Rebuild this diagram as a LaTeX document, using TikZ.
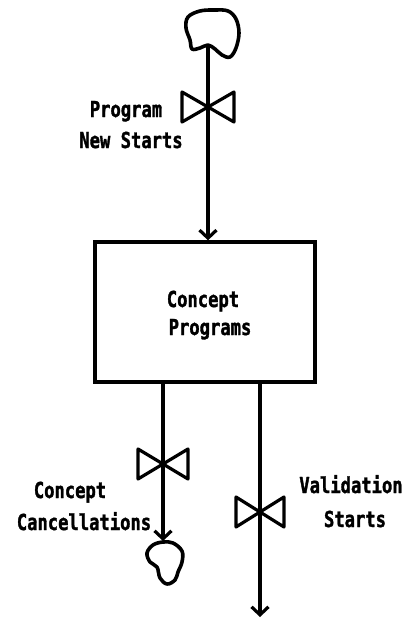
\documentclass[tikz,border=0pt]{standalone}
\usepackage{fontspec}
\newfontfamily\lblfont[FakeStretch=0.78,BoldFont={DejaVu Sans Mono Bold},BoldFeatures={FakeBold=1.5}]{DejaVu Sans Mono}
\usetikzlibrary{arrows.meta}

\tikzset{
  flow/.style={line width=3.2pt, -{Straight Barb[length=8pt,width=17pt,line width=3.2pt]}},
  cloudline/.style={line width=3.6pt, line join=round},
  stockbox/.style={draw, line width=3.4pt, minimum width=220pt, minimum height=140pt, inner sep=0pt},
  lbl/.style={font=\lblfont\bfseries\fontsize{22}{22}\selectfont, inner sep=0pt, anchor=base},
  pics/valve/.style={code={
    \draw[line width=3.2pt, line join=round]
      (-#1,-15) -- (0,0) -- (-#1,15) -- cycle
      (#1,-15) -- (0,0) -- (#1,15) -- cycle;
  }}
}

\begin{document}
\begin{tikzpicture}[x=1pt,y=-1pt]
  \useasboundingbox (0,0) rectangle (410,621);

  % source cloud
  \draw[cloudline] plot[smooth cycle, tension=0.6] coordinates
    {(188,17) (200,11) (215,10) (228,11) (236,19) (239,33) (236,48)
     (230,57) (222,55) (215,49) (208,45) (200,48) (192,49) (190,40) (186,28)};
  \coordinate (src) at (208,46);

  % stock
  \node[stockbox] (box) at (205,312) {};
  \node[lbl] (c1) at (203,307) {Concept};
  \node[lbl] (c2) at (210,335) {Programs};

  % sink cloud under the cancellation flow
  \draw[cloudline] plot[smooth cycle, tension=0.6] coordinates
    {(163,542) (173,543) (182,551) (182,562) (178,572) (175,580) (167,584)
     (160,578) (157,567) (150,562) (147,553) (153,545)};
  \coordinate (sink) at (163,541);
  \coordinate (out) at (260,617);

  % flows
  \draw[flow] (src) -- (src |- box.north);
  \draw[flow] ([xshift=-42pt]box.south) -- (sink);
  \draw[flow] ([xshift=55pt]box.south) -- (out);

  % valves
  \pic at (208,107) {valve=26};
  \pic at (163,464) {valve=25};
  \pic at (260,512) {valve=24};

  % flow labels
  \node[lbl] (p1) at (126,117) {Program};
  \node[lbl] (p2) at (131,148) {New Starts};
  \node[lbl] (k1) at (70,498) {Concept};
  \node[lbl] (k2) at (84,530) {Cancellations};
  \node[lbl] (v1) at (351,493) {Validation};
  \node[lbl] (v2) at (355,527) {Starts};
\end{tikzpicture}
\end{document}
